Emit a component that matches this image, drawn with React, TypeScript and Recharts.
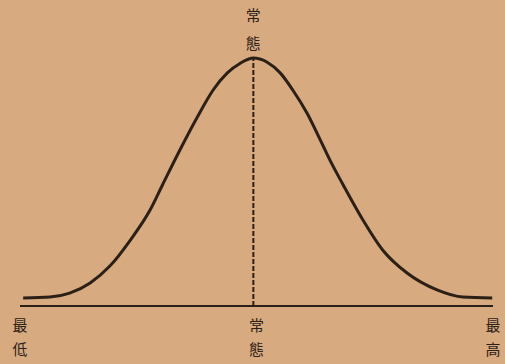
import React from 'react';
import { LineChart, Line, XAxis, YAxis, ReferenceLine } from 'recharts';

// position along the scale (in standard deviations, 最低 = -3, 最高 = 3)
const positions = [-2.96, -2.62, -2.37, -2.11, -1.86, -1.6, -1.35, -1.19, -0.97, -0.75, -0.55, -0.37, -0.21, -0.04, 0.13, 0.3, 0.46, 0.64, 0.81, 0.93, 1.1, 1.35, 1.6, 1.91, 2.29, 2.62, 2.99];
// relative frequency (peak = 100)
const frequency = [3.2, 3.6, 5.2, 9.3, 16.1, 26.6, 38.7, 49, 63, 76.2, 87.1, 94, 97.8, 100, 98.4, 94, 87.1, 77.8, 66.9, 58.9, 48.8, 34.7, 22.6, 13.3, 6.5, 3.6, 3.2];

const bottomTicks = [-3, 0, 3];
const bottomLabels = ['最低', '常態', '最高'];
const modeX = -0.04;
const topLabel = '常態';

const data = positions.map((x, i) => ({ x, y: frequency[i] }));

const ink = '#2b2017';
const font = '"Noto Sans CJK TC", "Noto Sans CJK SC", serif';

const VerticalTick = (props: any) => {
  const { x, y, payload, top } = props;
  const label = top ? topLabel : bottomLabels[bottomTicks.indexOf(payload.value)];
  if (!label) return null;
  const offsets = top ? [-37, -9] : [25, 49];
  return (
    <g>
      {label.split('').map((ch: string, i: number) => (
        <text key={i} x={x} y={y + offsets[i]} textAnchor="middle" fill={ink} fontSize={15} fontFamily={font}>
          {ch}
        </text>
      ))}
    </g>
  );
};

export default function App() {
  return (
    <div style={{ position: 'absolute', left: 0, top: 0, width: 505, height: 364, background: '#d8aa7f' }}>
      <LineChart width={505} height={364} data={data} margin={{ top: 0, right: 12, bottom: 0, left: 20 }}>
        <XAxis
          xAxisId="top"
          orientation="top"
          type="number"
          dataKey="x"
          domain={[-3, 3]}
          ticks={[modeX]}
          height={58}
          axisLine={false}
          tickLine={false}
          tickSize={0}
          tickMargin={0}
          tick={<VerticalTick top />}
        />
        <XAxis
          type="number"
          dataKey="x"
          domain={[-3, 3]}
          ticks={bottomTicks}
          height={58}
          axisLine={false}
          tickLine={false}
          tickSize={0}
          tickMargin={0}
          tick={<VerticalTick />}
        />
        <YAxis type="number" domain={[0, 100]} hide />
        <ReferenceLine y={0} stroke={ink} strokeWidth={2} />
        <ReferenceLine x={modeX} stroke={ink} strokeWidth={2} strokeDasharray="5 2" />
        <Line
          type="monotone"
          dataKey="y"
          stroke={ink}
          strokeWidth={3}
          dot={false}
          isAnimationActive={false}
        />
      </LineChart>
    </div>
  );
}
